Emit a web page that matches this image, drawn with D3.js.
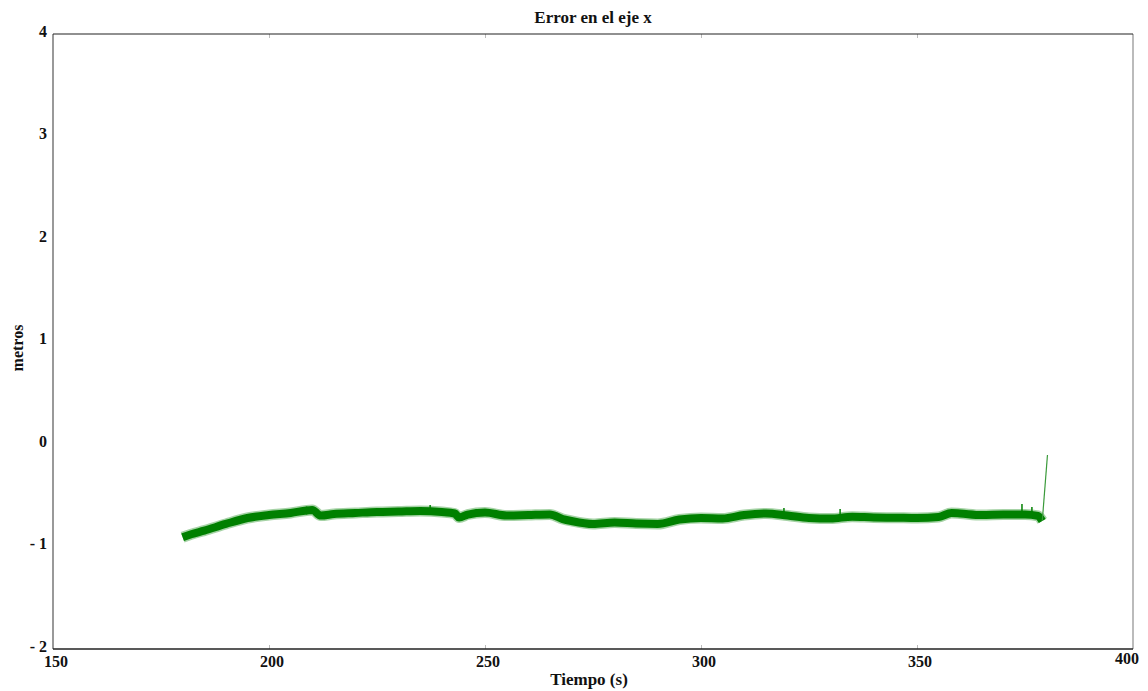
<!DOCTYPE html>
<html>
<head>
<meta charset="utf-8">
<script src="https://cdn.jsdelivr.net/npm/d3@7"></script>
<style>
  body { margin: 0; background: #fff; }
  text { font-family: "Liberation Serif", "DejaVu Serif", serif; font-weight: bold; fill: #111; }
</style>
</head>
<body>
<div id="chart"></div>
<script>
// error in x (seconds, metres)
var tiempo = [180, 182, 185, 190, 195, 200, 205, 210, 212, 215, 220, 225, 230, 235, 240, 243, 244, 246,
  250, 255, 260, 265, 268, 270, 275, 280, 285, 290, 295, 300, 305, 310, 315, 320, 325, 330, 335,
  340, 345, 350, 355, 358, 360, 365, 370, 375, 378, 379];
var errorX = [-0.91, -0.88, -0.845, -0.78, -0.722, -0.693, -0.673, -0.644, -0.698, -0.683, -0.673, -0.663,
  -0.659, -0.654, -0.663, -0.678, -0.717, -0.688, -0.668, -0.698, -0.693, -0.688, -0.732, -0.751,
  -0.78, -0.766, -0.776, -0.78, -0.737, -0.722, -0.727, -0.693, -0.678, -0.698, -0.722, -0.727,
  -0.709, -0.717, -0.719, -0.722, -0.712, -0.673, -0.678, -0.693, -0.688, -0.688, -0.702, -0.751];
// final jump at the end of the run
var saltoT = [379, 380.2];
var saltoV = [-0.751, -0.107];
// isolated spikes above the band
var picoT = [208.7, 237.3, 319.2, 332.2, 374.3, 376.6];
var picoV = [-0.61, -0.595, -0.624, -0.634, -0.585, -0.615];

var xTicks = [150, 200, 250, 300, 350, 400];
var yTicks = [-2, -1, 0, 1, 2, 3, 4];

var width = 1148, height = 691;
var mLeft = 53, mRight = 1133, mTop = 34, mBottom = 649;

var x = d3.scaleLinear().domain([150, 400]).range([mLeft, mRight]);
var y = d3.scaleLinear().domain([-2, 4]).range([mBottom, mTop]);

var svg = d3.select("#chart").append("svg")
  .attr("width", width)
  .attr("height", height);

// inner tick marks
svg.append("g")
  .attr("transform", "translate(0," + mBottom + ")")
  .call(d3.axisTop(x).tickValues(xTicks.slice(1, -1)).tickSize(4).tickFormat(""))
  .call(g => g.select(".domain").remove())
  .call(g => g.selectAll("line").attr("stroke", "#bbb"));
svg.append("g")
  .attr("transform", "translate(0," + mTop + ")")
  .call(d3.axisBottom(x).tickValues(xTicks.slice(1, -1)).tickSize(4).tickFormat(""))
  .call(g => g.select(".domain").remove())
  .call(g => g.selectAll("line").attr("stroke", "#bbb"));

// frame
svg.append("line").attr("x1", mLeft).attr("x2", mLeft).attr("y1", mTop).attr("y2", mBottom)
  .attr("stroke", "#777").attr("stroke-width", 1.5);
svg.append("line").attr("x1", mRight).attr("x2", mRight).attr("y1", mTop).attr("y2", mBottom)
  .attr("stroke", "#bbb").attr("stroke-width", 2);
svg.append("line").attr("x1", mLeft).attr("x2", mRight).attr("y1", mTop).attr("y2", mTop)
  .attr("stroke", "#222").attr("stroke-width", 1.2);
svg.append("line").attr("x1", mLeft).attr("x2", mRight).attr("y1", mBottom).attr("y2", mBottom)
  .attr("stroke", "#222").attr("stroke-width", 1.5);

// tick labels
svg.selectAll(".ylab")
  .data(yTicks)
  .enter().append("text")
  .attr("class", "ylab")
  .attr("x", 47)
  .attr("y", d => y(d) - 3)
  .attr("dy", "0.35em")
  .attr("text-anchor", "end")
  .style("font-size", "16px")
  .text(d => d < 0 ? "- " + Math.abs(d) : d);

svg.selectAll(".xlab")
  .data(xTicks)
  .enter().append("text")
  .attr("class", "xlab")
  .attr("x", d => d === 400 ? x(d) + 6 : x(d) + 3)
  .attr("y", d => d === 400 ? 664 : 667)
  .attr("text-anchor", d => d === 400 ? "end" : "middle")
  .style("font-size", "16px")
  .text(d => d);

// titles
svg.append("text")
  .attr("x", (mLeft + mRight) / 2)
  .attr("y", 23)
  .attr("text-anchor", "middle")
  .style("font-size", "17px")
  .text("Error en el eje x");

svg.append("text")
  .attr("x", (mLeft + mRight) / 2 - 4)
  .attr("y", 685)
  .attr("text-anchor", "middle")
  .style("font-size", "17px")
  .text("Tiempo (s)");

svg.append("text")
  .attr("transform", "translate(23," + 348 + ") rotate(-90)")
  .attr("text-anchor", "middle")
  .style("font-size", "16px")
  .text("metros");

// series
var serie = d3.zip(tiempo, errorX);
var line = d3.line()
  .x(d => x(d[0]))
  .y(d => y(d[1]))
  .curve(d3.curveMonotoneX);

// soft halo for the noisy band, then its core
svg.append("path")
  .datum(serie)
  .attr("fill", "none")
  .attr("stroke", "#008000")
  .attr("stroke-opacity", 0.35)
  .attr("stroke-width", 11)
  .attr("stroke-linejoin", "round")
  .attr("d", line);

svg.append("path")
  .datum(serie)
  .attr("fill", "none")
  .attr("stroke", "#008000")
  .attr("stroke-width", 8)
  .attr("stroke-linejoin", "round")
  .attr("d", line);

svg.append("path")
  .datum(d3.zip(saltoT, saltoV))
  .attr("fill", "none")
  .attr("stroke", "#3a9a3a")
  .attr("stroke-width", 1.2)
  .attr("d", d3.line().x(d => x(d[0])).y(d => y(d[1])));

svg.selectAll(".pico")
  .data(d3.zip(picoT, picoV))
  .enter().append("line")
  .attr("class", "pico")
  .attr("x1", d => x(d[0]))
  .attr("x2", d => x(d[0]))
  .attr("y1", d => y(d[1]))
  .attr("y2", d => y(d[1]) + 8)
  .attr("stroke", "#008000")
  .attr("stroke-width", 1.5);
</script>
</body>
</html>
